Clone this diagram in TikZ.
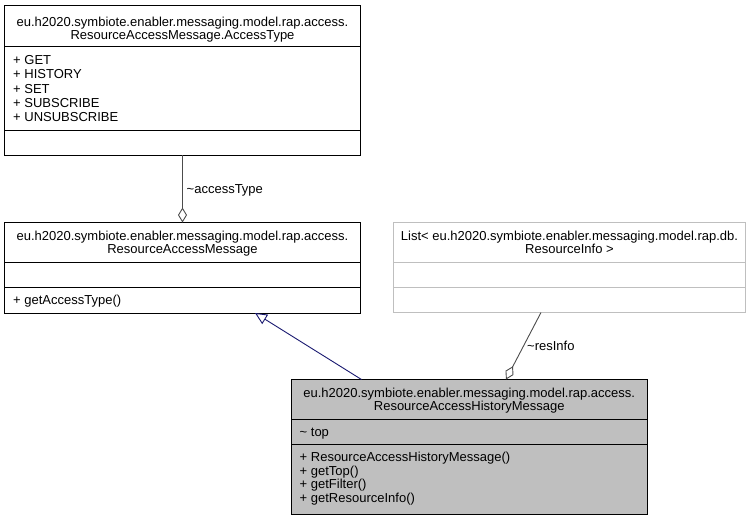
\documentclass[tikz,border=0pt]{standalone}
\usepackage{fontspec}
\setmainfont{Liberation Sans}
\usetikzlibrary{arrows.meta,calc}
\begin{document}
\begin{tikzpicture}[x=1pt,y=-1pt,
  classbox/.style={draw=black,line width=0.9pt,anchor=north west,inner sep=0pt,outer sep=0pt},
  greybox/.style={classbox,draw=black!25},
  activebox/.style={classbox,fill=black!25},
  sep/.style={line width=0.9pt},
  lightsep/.style={line width=0.9pt,draw=black!25},
  % multi-line nodes: the base anchor sits on the last line's baseline
  title/.style={font=\fontsize{13}{13.5}\selectfont,align=center,inner sep=0pt,anchor=base},
  member/.style={font=\fontsize{13}{14.2}\selectfont,align=left,inner sep=0pt,anchor=base west},
  lbl/.style={font=\fontsize{13}{14}\selectfont,inner sep=0pt,anchor=base west},
  assoc/.style={draw=black!70,line width=0.9pt,-{Diamond[open,length=15pt,width=9pt,line width=0.9pt]}},
  inherit/.style={draw={rgb,255:red,25;green,25;blue,112},line width=0.9pt,-{Triangle[open,length=12pt,width=11pt,line width=0.9pt]}}
]
\useasboundingbox (0,0) rectangle (751,520);

% enumeration AccessType
\node[classbox,minimum width=356pt,minimum height=149.5pt] (at) at (4.5,5.5) {};
\draw[sep] (4.5,46.5) -- (360.5,46.5);
\draw[sep] (4.5,130) -- (360.5,130);
\node[title] (att) at (182.5,39.5) {eu.h2020.symbiote.enabler.messaging.model.rap.access.\\ResourceAccessMessage.AccessType};
\node[member] (atm) at (13,121.5) {+ GET\\+ HISTORY\\+ SET\\+ SUBSCRIBE\\+ UNSUBSCRIBE};

% class ResourceAccessMessage
\node[classbox,minimum width=356pt,minimum height=90.5pt] (ram) at (4.5,222.5) {};
\draw[sep] (4.5,262.5) -- (360.5,262.5);
\draw[sep] (4.5,287.5) -- (360.5,287.5);
\node[title] (ramt) at (182.5,253.5) {eu.h2020.symbiote.enabler.messaging.model.rap.access.\\ResourceAccessMessage};
\node[member] (ramm) at (13,304.5) {+ getAccessType()};

% List< ResourceInfo >
\node[greybox,minimum width=352pt,minimum height=90pt] (lst) at (393.5,222.5) {};
\draw[lightsep] (393.5,262.5) -- (745.5,262.5);
\draw[lightsep] (393.5,287.5) -- (745.5,287.5);
\node[title] (lstt) at (569.5,253.5) {List< eu.h2020.symbiote.enabler.messaging.model.rap.db.\\ResourceInfo >};

% class ResourceAccessHistoryMessage
\node[activebox,minimum width=356.5pt,minimum height=134.5pt] (rahm) at (291,379.5) {};
\draw[sep] (291,419.5) -- (647.5,419.5);
\draw[sep] (291,444) -- (647.5,444);
\node[title] (rahmt) at (469.25,410.5) {eu.h2020.symbiote.enabler.messaging.model.rap.access.\\ResourceAccessHistoryMessage};
\node[member] (rahma) at (299.5,436) {\textasciitilde{} top};
\node[member,font=\fontsize{13}{13.7}\selectfont] (rahmm) at (299.5,502.6) {+ ResourceAccessHistoryMessage()\\+ getTop()\\+ getFilter()\\+ getResourceInfo()};

% relations
\draw[assoc] (at.south) -- (ram.north);
\node[lbl] (lat) at (186.5,193.5) {\textasciitilde{}accessType};
\draw[inherit] ($(rahm.north west)+(70.5,0)$) -- ($(ram.south west)+(250.5,0)$);
\draw[assoc] ($(lst.south west)+(147.5,0)$) -- ($(rahm.north west)+(215,0)$);
\node[lbl] (lri) at (527,350) {\textasciitilde{}resInfo};
\end{tikzpicture}
\end{document}
